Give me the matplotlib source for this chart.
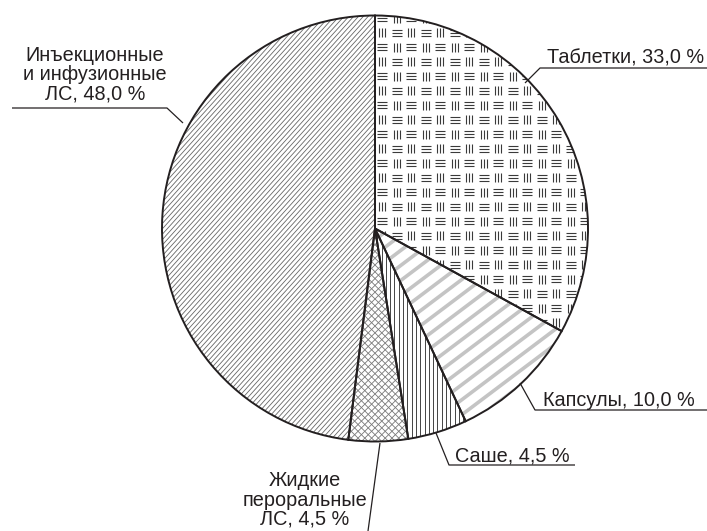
import matplotlib.pyplot as plt
import numpy as np
from matplotlib.collections import LineCollection

plt.rcParams['font.family'] = ['Liberation Sans', 'DejaVu Sans']

W, H = 707, 531

# доли лекарственных форм, %
forms = ['Таблетки', 'Капсулы', 'Саше', 'Жидкие\nпероральные\nЛС', 'Инъекционные\nи инфузионные\nЛС']
shares = [33.0, 10.0, 4.5, 4.5, 48.0]
labels = [f'{f}, {v:.1f} %'.replace('.', ',') for f, v in zip(forms, shares)]

fig = plt.figure(figsize=(W / 100, H / 100), dpi=100)
ax = fig.add_axes([0, 0, 1, 1])

cx, cy, R = 375, H - 228.5, 213
wedges, _ = ax.pie(shares, startangle=90, counterclock=False, center=(cx, cy), radius=R,
                   wedgeprops=dict(facecolor='none', edgecolor='#231f20', linewidth=1.4, zorder=3))
ax.set_xlim(0, W)
ax.set_ylim(0, H)
ax.set_aspect('equal')
ax.axis('off')


def stripes(angle, step):
    a = np.radians(angle)
    d = np.array([np.cos(a), np.sin(a)])
    n = np.array([-np.sin(a), np.cos(a)])
    c = np.array([cx, cy])
    segs = []
    for k in np.arange(-R - step, R + step, step):
        p = c + k * n
        segs.append([p - 1.1 * R * d, p + 1.1 * R * d])
    return segs


def weave(cell=14.5):
    segs = []
    nx = int(2 * R / cell) + 2
    for i in range(-nx, nx):
        for j in range(-nx, nx):
            x = cx + (i + 0.5) * cell
            y = cy + (j + 0.5) * cell
            if (i + j) % 2 == 0:
                for o in (-3, 0, 3):
                    segs.append([(x - 5, y + o), (x + 5, y + o)])
            else:
                for o in (-3, 0, 3):
                    segs.append([(x + o, y - 4.5), (x + o, y + 4.5)])
    return segs


def hatch(wedge, segs, color, lw):
    lc = LineCollection(segs, colors=color, linewidths=lw, zorder=2, capstyle='butt')
    ax.add_collection(lc)
    lc.set_clip_path(wedge)


hatch(wedges[0], weave(), '#3a3a3a', 0.8)
hatch(wedges[1], stripes(37, 12), '#c4c4c4', 2.6)
hatch(wedges[2], stripes(90, 4.3), '#444444', 0.7)
hatch(wedges[3], stripes(45, 4.8) + stripes(-45, 4.8), '#777777', 0.6)
hatch(wedges[4], stripes(48, 3.6), '#666666', 0.6)

# выноски (в пикселях от верхнего края)
leaders = [
    [(525, 83), (540, 68), (707, 68)],
    [(520, 383), (535, 410), (707, 410)],
    [(436, 433), (449, 465), (575, 465)],
    [(380, 443), (368, 531)],
    [(183, 123), (167, 108), (12, 108)],
]
text_pos = [
    (547, 64, 'left', 'baseline'),
    (543, 406, 'left', 'baseline'),
    (455, 461, 'left', 'baseline'),
    (305, 500, 'center', 'center'),
    (95, 75, 'center', 'center'),
]

for pts, lab, (tx, ty, ha, va) in zip(leaders, labels, text_pos):
    xs = [p[0] for p in pts]
    ys = [H - p[1] for p in pts]
    ax.plot(xs, ys, color='#231f20', lw=0.9, zorder=4, solid_capstyle='butt')
    ax.text(tx, H - ty, lab, ha=ha, va=va, fontsize=14.3, color='#231f20',
            linespacing=1.02, multialignment='center')

fig.savefig('out.png', dpi=100, facecolor='white')
